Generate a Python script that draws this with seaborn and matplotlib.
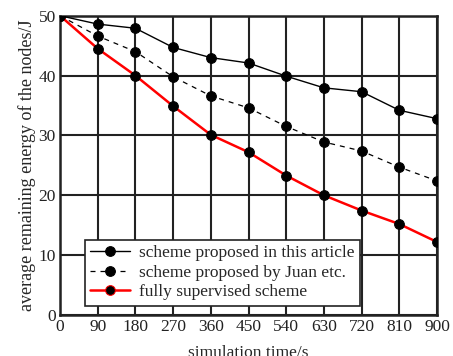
import pandas as pd
import seaborn as sns
import matplotlib.pyplot as plt

# simulation time (s) and remaining energy (J)
times = [0, 90, 180, 270, 360, 450, 540, 630, 720, 810, 900]
proposed = [50, 48.6, 47.9, 44.7, 43.0, 42.1, 39.9, 37.95, 37.3, 34.2, 32.8]
juan = [50, 46.6, 44.0, 39.8, 36.6, 34.6, 31.5, 28.9, 27.4, 24.7, 22.4]
supervised = [50, 44.5, 40.0, 34.9, 30.1, 27.2, 23.3, 20.0, 17.45, 15.2, 12.2]
y_ticks = [0, 10, 20, 30, 40, 50]

labels = ["scheme proposed in this article",
          "scheme proposed by Juan etc.",
          "fully supervised scheme"]

sns.set_style("white")
plt.rcParams['font.family'] = ['Liberation Serif', 'DejaVu Serif']
fs = 12.5

fig = plt.figure(figsize=(4.53, 3.56), dpi=100)
ax = fig.add_axes([60 / 453, 1 - 315 / 356, 377 / 453, (315 - 15.7) / 356])

ax.grid(True, color='#222222', linewidth=1.5)
ax.set_axisbelow(True)

sns.lineplot(x=times, y=proposed, ax=ax, color='black', linewidth=1.0,
             marker='o', markersize=7, markerfacecolor='black',
             markeredgecolor='black', label=labels[0], zorder=3)
sns.lineplot(x=times, y=juan, ax=ax, color='black', linewidth=0.9,
             linestyle=(0, (4, 4)), marker='o', markersize=7,
             markerfacecolor='black', markeredgecolor='black',
             label=labels[1], zorder=3)
sns.lineplot(x=times, y=supervised, ax=ax, color='red', linewidth=1.8,
             marker='o', markersize=7, markerfacecolor='black',
             markeredgecolor='black', label=labels[2], zorder=3)

ax.set_xlim(0, 900)
ax.set_ylim(0, 50)
ax.set_xticks(times)
ax.set_yticks(y_ticks)
ax.tick_params(length=0, labelsize=fs, colors='#222222', pad=3)
for s in ax.spines.values():
    s.set_color('#222222')
    s.set_linewidth(1.8)

ax.set_xlabel("simulation time/s", fontsize=fs, labelpad=7)
ax.set_ylabel("average remaining energy of the nodes/J", fontsize=13, labelpad=2)

leg = ax.legend(loc='lower left', bbox_to_anchor=(25 / 377, 9.5 / 299.3),
                fontsize=fs, frameon=True, fancybox=False, framealpha=1,
                edgecolor='#222222', borderpad=0.3, labelspacing=0.2,
                handlelength=2.3, handletextpad=0.5, borderaxespad=0)
leg.get_frame().set_linewidth(1.2)
leg.get_lines()[2].set_markeredgecolor('red')

fig.savefig("out.png", dpi=100)
